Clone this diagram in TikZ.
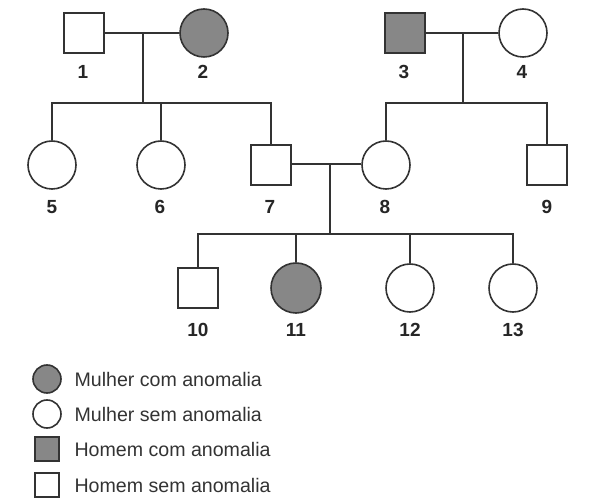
\documentclass[tikz,border=0pt]{standalone}
\usepackage{fontspec}
\setmainfont{Liberation Sans}
\begin{document}
\begin{tikzpicture}[x=1pt,y=-1pt,
  ln/.style={draw=black!80, line width=1.6pt},
  male/.style={ln, rectangle, minimum size=40pt, inner sep=0pt, fill=white},
  female/.style={ln, circle, minimum size=48pt, inner sep=0pt, fill=white},
  aff/.style={fill=black!47},
  lab/.style={font=\fontsize{19}{19}\selectfont\bfseries, text=black!85},
  leg/.style={font=\fontsize{19.6}{21}\selectfont, text=black!80, anchor=west},
  conn/.style={draw=black!80, line width=1.6pt}]
\useasboundingbox (0,0) rectangle (610,502);
% individuals
\node[male] (n1) at (84,33) {};
\node[female,aff] (n2) at (204,33) {};
\node[male,aff] (n3) at (405,33) {};
\node[female] (n4) at (523,33) {};
\node[female] (n5) at (52,165) {};
\node[female] (n6) at (161,165) {};
\node[male] (n7) at (271,165) {};
\node[female] (n8) at (386,165) {};
\node[male] (n9) at (547,165) {};
\node[male] (n10) at (198,288) {};
\node[female,aff,minimum size=50pt] (n11) at (296,288) {};
\node[female] (n12) at (410,288) {};
\node[female] (n13) at (513,288) {};
% labels
\node[lab] (l1) at (83,72) {1};
\node[lab] (l2) at (203,72) {2};
\node[lab] (l3) at (404,72) {3};
\node[lab] (l4) at (522,72) {4};
\node[lab] (l5) at (52,207) {5};
\node[lab] (l6) at (160,207) {6};
\node[lab] (l7) at (270,207) {7};
\node[lab] (l8) at (385,207) {8};
\node[lab] (l9) at (547,207) {9};
\node[lab] (l10) at (198,330) {10};
\node[lab] (l11) at (296,330) {11};
\node[lab] (l12) at (410,330) {12};
\node[lab] (l13) at (513,330) {13};
% coordinates
\coordinate (m12) at (143,33);
\coordinate (s12) at (143,103);
\coordinate (m34) at (463,33);
\coordinate (s34) at (463,103);
\coordinate (m78) at (330,164);
\coordinate (s78) at (330,234);
% marriages
\draw[conn] (n1.east) -- (n2.west);
\draw[conn] (n3.east) -- (n4.west);
\draw[conn] (n7.east |- m78) -- (n8.west |- m78);
% descents
\draw[conn] (m12) -- (s12);
\draw[conn] (m34) -- (s34);
\draw[conn] (m78) -- (s78);
% sibships
\draw[conn] (n5.north) -- (n5.north |- s12) -- (n7.north |- s12) -- (n7.north);
\draw[conn] (n6.north) -- (n6.north |- s12);
\draw[conn] (n8.north) -- (n8.north |- s34) -- (n9.north |- s34) -- (n9.north);
\draw[conn] (n10.north) -- (n10.north |- s78) -- (n13.north |- s78) -- (n13.north);
\draw[conn] (n11.north) -- (n11.north |- s78);
\draw[conn] (n12.north) -- (n12.north |- s78);
% legend
\node[ln, circle, minimum size=28pt, inner sep=0pt, aff] (k1) at (47,379) {};
\node[ln, circle, minimum size=28pt, inner sep=0pt, fill=white] (k2) at (47,414) {};
\node[ln, rectangle, minimum size=24pt, inner sep=0pt, aff] (k3) at (47,449) {};
\node[ln, rectangle, minimum size=24pt, inner sep=0pt, fill=white] (k4) at (47,485) {};
\node[leg] (t1) at (71,379) {Mulher com anomalia};
\node[leg] (t2) at (71,414) {Mulher sem anomalia};
\node[leg] (t3) at (71,449) {Homem com anomalia};
\node[leg] (t4) at (71,485) {Homem sem anomalia};
\end{tikzpicture}
\end{document}
